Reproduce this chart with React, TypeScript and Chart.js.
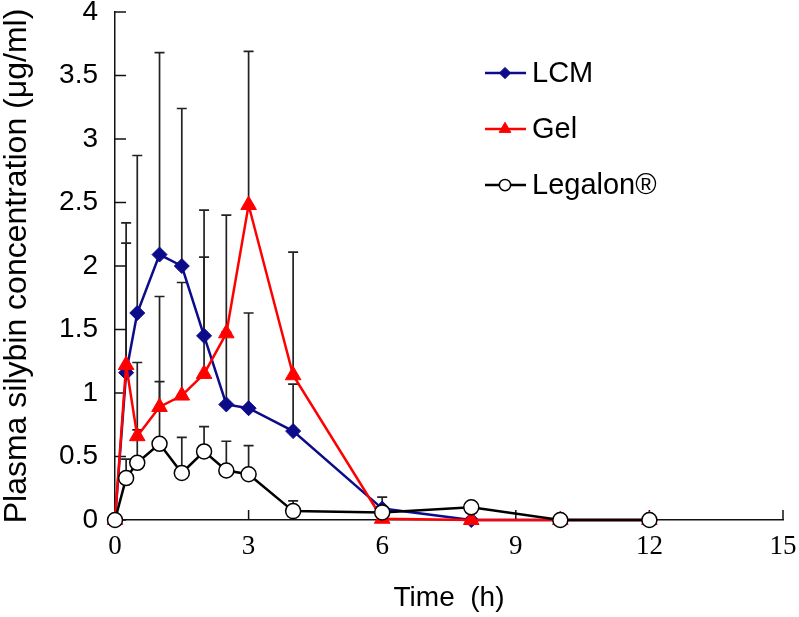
import React, { useEffect, useRef } from 'react';
import { Chart, registerables } from 'chart.js';
import { drawPoint } from 'chart.js/helpers';

Chart.register(...registerables);

// ---- data ----
const times = [0, 0.25, 0.5, 1, 1.5, 2, 2.5, 3, 4, 6, 8, 10, 12];
const lcm = [0, 1.16, 1.63, 2.09, 2.0, 1.45, 0.91, 0.88, 0.7, 0.09, 0, 0, 0];
const lcmErr = [0, 1.18, 1.24, 1.59, 1.24, 0.99, 0.57, 0.75, 0.37, 0.09, 0, 0, 0];
const gel = [0, 1.22, 0.66, 0.89, 0.98, 1.15, 1.47, 2.48, 1.14, 0.01, 0, 0, 0];
const gelErr = [0, 0.96, 0.58, 0.87, 0.89, 0.92, 0.93, 1.21, 0.97, 0, 0, 0, 0];
const legalon = [0, 0.33, 0.45, 0.6, 0.37, 0.54, 0.39, 0.36, 0.07, 0.06, 0.1, 0, 0];
const legalonErr = [0, 0.15, 0.26, 0.49, 0.28, 0.195, 0.23, 0.225, 0.08, 0, 0, 0, 0];

const seriesNames = ['LCM', 'Gel', 'Legalon®'];
const xTickValues = [0, 3, 6, 9, 12, 15];
const yTickLabels = ['0', '0.5', '1', '1.5', '2', '2.5', '3', '3.5', '4'];
const xTitle = 'Time  (h)';
const yTitle = 'Plasma silybin concentration (μg/ml)';

const SANS = '"Liberation Sans", Arial, sans-serif';
const SERIF = '"Liberation Serif", "Times New Roman", serif';

const errorBarPlugin = {
  id: 'errorBars',
  beforeDatasetsDraw(chart: any) {
    const { ctx, scales } = chart;
    const xs = scales.x, ys = scales.y;
    ctx.save();
    ctx.strokeStyle = '#222';
    ctx.lineWidth = 1.7;
    chart.data.datasets.forEach((ds: any) => {
      const err: number[] = ds.errors || [];
      ds.data.forEach((p: any, i: number) => {
        const e = err[i];
        if (!e) return;
        const x = xs.getPixelForValue(p.x);
        const y0 = ys.getPixelForValue(p.y);
        const y1 = ys.getPixelForValue(p.y + e);
        ctx.beginPath();
        ctx.moveTo(x, y0);
        ctx.lineTo(x, y1);
        ctx.moveTo(x - 5, y1);
        ctx.lineTo(x + 5, y1);
        ctx.stroke();
      });
    });
    // inward axis ticks
    ctx.strokeStyle = '#111';
    ctx.lineWidth = 1.5;
    const area = chart.chartArea;
    ys.ticks.forEach((t: any) => {
      const y = ys.getPixelForValue(t.value);
      ctx.beginPath();
      ctx.moveTo(area.left, y);
      ctx.lineTo(area.left + 11, y);
      ctx.stroke();
    });
    xs.ticks.forEach((t: any) => {
      const x = xs.getPixelForValue(t.value);
      ctx.beginPath();
      ctx.moveTo(x, area.bottom);
      ctx.lineTo(x, area.bottom - 10);
      ctx.stroke();
    });
    ctx.restore();
  },
};

const legendPlugin = {
  id: 'customLegend',
  afterDraw(chart: any) {
    const { ctx, chartArea } = chart;
    const x0 = chartArea.left + 370;
    const y0 = chartArea.top + 61;
    const gap = 56;
    ctx.save();
    chart.data.datasets.forEach((ds: any, i: number) => {
      const y = y0 + i * gap;
      ctx.strokeStyle = ds.borderColor;
      ctx.lineWidth = 2.5;
      ctx.beginPath();
      ctx.moveTo(x0, y);
      ctx.lineTo(x0 + 41, y);
      ctx.stroke();
      ctx.fillStyle = ds.pointBackgroundColor;
      ctx.strokeStyle = ds.pointBorderColor;
      ctx.lineWidth = ds.pointBorderWidth;
      drawPoint(ctx, { pointStyle: ds.pointStyle, rotation: 0, radius: ds.pointRadius * 0.75, borderWidth: ds.pointBorderWidth }, x0 + 20, y);
      ctx.fillStyle = '#000';
      ctx.font = `29px ${SANS}`;
      ctx.textAlign = 'left';
      ctx.textBaseline = 'middle';
      ctx.fillText(ds.label, x0 + 47, y + 1);
    });
    ctx.restore();
  },
};

function toPoints(vals: number[]) {
  return vals.map((v, i) => ({ x: times[i], y: v }));
}

export default function App() {
  const ref = useRef<HTMLCanvasElement>(null);
  useEffect(() => {
    document.body.style.margin = '0';
    const chart = new Chart(ref.current as HTMLCanvasElement, {
      type: 'line',
      data: {
        datasets: [
          {
            label: seriesNames[0],
            data: toPoints(lcm),
            errors: lcmErr,
            borderColor: '#0c0c8a',
            backgroundColor: '#0c0c8a',
            pointBackgroundColor: '#0c0c8a',
            pointBorderColor: '#0c0c8a',
            pointBorderWidth: 1,
            pointStyle: 'rectRot',
            pointRadius: 7.5,
            borderWidth: 2.5,
            order: 3,
            clip: false,
          },
          {
            label: seriesNames[1],
            data: toPoints(gel),
            errors: gelErr,
            borderColor: '#ff0000',
            backgroundColor: '#ff0000',
            pointBackgroundColor: '#ff0000',
            pointBorderColor: '#ff0000',
            pointBorderWidth: 1,
            pointStyle: 'triangle',
            pointRadius: 9,
            borderWidth: 2.5,
            order: 2,
            clip: false,
          },
          {
            label: seriesNames[2],
            data: toPoints(legalon),
            errors: legalonErr,
            borderColor: '#000000',
            backgroundColor: '#ffffff',
            pointBackgroundColor: '#ffffff',
            pointBorderColor: '#000000',
            pointBorderWidth: 1.5,
            pointStyle: 'circle',
            pointRadius: 7.5,
            borderWidth: 2.5,
            order: 1,
            clip: false,
          },
        ] as any,
      },
      options: {
        animation: false,
        responsive: false,
        events: [],
        layout: { padding: { top: 12, right: 16, left: 0, bottom: 0 } },
        plugins: { legend: { display: false }, tooltip: { enabled: false } },
        elements: { line: { tension: 0 } },
        scales: {
          x: {
            type: 'linear',
            min: 0,
            max: 15,
            afterBuildTicks: (s: any) => {
              s.ticks = xTickValues.map((v) => ({ value: v }));
            },
            afterFit: (s: any) => {
              s.height = 97;
              s.paddingLeft = 0;
              s.paddingRight = 0;
            },
            grid: { display: true, drawOnChartArea: false, drawTicks: false },
            border: { display: true, color: '#111', width: 1.5 },
            ticks: {
              color: '#000',
              font: { family: SERIF, size: 27 },
              padding: 11,
              maxRotation: 0,
              callback: (v: any) => String(v),
            },
            title: {
              display: true,
              text: xTitle,
              color: '#000',
              font: { family: SANS, size: 28, lineHeight: 1 },
              padding: { top: 0, bottom: 5 },
            },
          },
          y: {
            type: 'linear',
            min: 0,
            max: 4,
            afterBuildTicks: (s: any) => {
              s.ticks = yTickLabels.map((l) => ({ value: parseFloat(l) }));
            },
            afterFit: (s: any) => {
              s.width = 115;
              s.paddingTop = 0;
              s.paddingBottom = 0;
            },
            grid: { display: true, drawOnChartArea: false, drawTicks: false },
            border: { display: true, color: '#111', width: 1.5 },
            ticks: {
              color: '#000',
              font: { family: SANS, size: 28 },
              padding: 17,
              callback: (v: any) => yTickLabels[Math.round(Number(v) * 2)],
            },
            title: {
              display: true,
              text: yTitle,
              color: '#000',
              font: { family: SANS, size: 32, lineHeight: 1 },
              padding: { top: 1, bottom: 0 },
            },
          },
        },
      } as any,
      plugins: [errorBarPlugin, legendPlugin],
    });
    return () => chart.destroy();
  }, []);
  return (
    <div style={{ width: 799, height: 617, background: '#fff' }}>
      <canvas ref={ref} width={799} height={617} />
    </div>
  );
}
